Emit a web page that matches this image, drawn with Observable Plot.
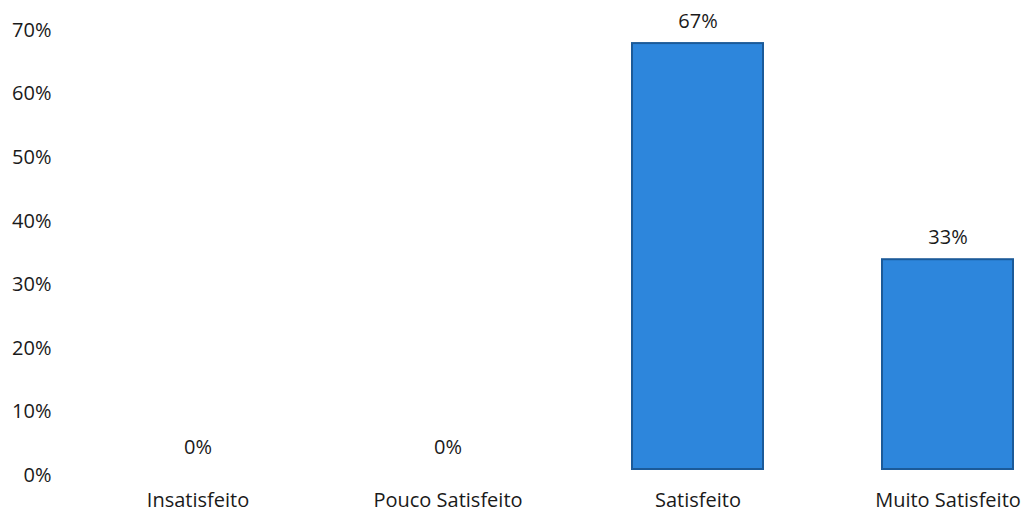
<!DOCTYPE html>
<html>
<head>
<meta charset="utf-8">
<script src="https://cdn.jsdelivr.net/npm/d3@7"></script>
<script src="https://cdn.jsdelivr.net/npm/@observablehq/plot@0.6"></script>
<style>
  html, body { margin: 0; padding: 0; background: #fff; }
</style>
</head>
<body>
<div id="chart"></div>
<script>
const categories = ["Insatisfeito", "Pouco Satisfeito", "Satisfeito", "Muito Satisfeito"];
const values = [0, 0, 67, 33];
const labels = ["0%", "0%", "67%", "33%"];
const yTicks = [0, 10, 20, 30, 40, 50, 60, 70];

const data = categories.map((c, i) => ({category: c, value: values[i], label: labels[i]}));

const chart = Plot.plot({
  width: 1030,
  height: 512,
  marginLeft: 51,
  marginRight: 0,
  marginTop: 24,
  marginBottom: 43,
  style: {fontFamily: "'Open Sans', sans-serif", fontSize: "20px", color: "#1a1a1a", background: "#fff"},
  x: {domain: categories, range: [71, 1073], paddingInner: 0.477, paddingOuter: 0.2385},
  y: {domain: [0, 70], range: [469, 24]},
  marks: [
    Plot.barY(data, {x: "category", y: "value", fill: "#2D86DC", stroke: "#1B5A99", strokeWidth: 2}),
    Plot.text(data, {x: "category", y: "value", text: "label", dy: -22, fontSize: 20, fill: "#1a1a1a"}),
    Plot.axisY({ticks: yTicks, tickFormat: d => d + "%", tickSize: 0, tickPadding: 0, dy: 6, fontSize: 20, label: null}),
    Plot.axisX({tickSize: 0, tickPadding: 23, fontSize: 20, label: null})
  ]
});
document.getElementById("chart").appendChild(chart);
</script>
</body>
</html>
